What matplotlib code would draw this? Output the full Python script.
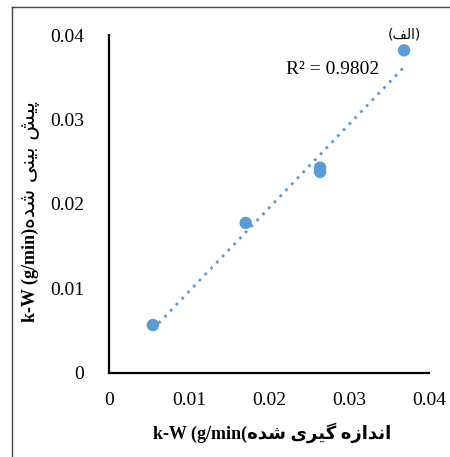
import numpy as np
import matplotlib
matplotlib.use("Agg")
import matplotlib.pyplot as plt
from matplotlib.lines import Line2D

plt.rcParams["font.family"] = ["Liberation Serif", "DejaVu Sans"]

# measured vs predicted k-W (g/min)
measured = [0.0055, 0.0171, 0.0264, 0.0264, 0.0369]
predicted = [0.00565, 0.01775, 0.0243, 0.0238, 0.0382]
ticks = [0, 0.01, 0.02, 0.03, 0.04]
tick_labels = ["0", "0.01", "0.02", "0.03", "0.04"]
r2_label = "R\u00b2 = 0.9802"

# Persian text in visual order (presentation forms)
fa_shode = "\uFEE9\uFEAA\uFEB7"
fa_giri = "\uFBFC\uFEAE\uFBFF\uFB94"
fa_andaze = "\uFEE9\uFEAF\uFE8D\uFEAA\uFEE7\uFE8D"
fa_pish = "\uFEB6\uFBFF\uFB58"
fa_bini = "\uFBFD\uFEE8\uFBFF\uFE91"
fa_alef = "(\uFED2\uFEDF\uFE8D)"

xlabel = "k-W (g/min(" + fa_shode + " " + fa_giri + " " + fa_andaze
ylabel_en = "k-W (g/min)"
ylabel_fa = fa_shode + " " + fa_bini + " " + fa_pish

blue = "#5B9BD5"

fig = plt.figure(figsize=(4.5, 4.57), dpi=100)
ax = fig.add_axes([0.242, 0.1845, 0.711, 0.7385])

# trendline
k, b = np.polyfit(measured, predicted, 1)
xs = np.array([min(measured), max(measured)])
ax.plot(xs, k * xs + b, linestyle=(0, (1, 2)), color=blue, linewidth=2)
ax.scatter(measured, predicted, s=80, color=blue, zorder=3, edgecolors="none")

ax.set_xlim(0, 0.04)
ax.set_ylim(0, 0.04)
ax.set_xticks(ticks)
ax.set_xticklabels(tick_labels)
ax.set_yticks(ticks)
ax.set_yticklabels(tick_labels)
ax.tick_params(length=0, labelsize=14, pad=14)
ax.tick_params(axis="y", pad=18)
for s in ["top", "right"]:
    ax.spines[s].set_visible(False)
for s in ["left", "bottom"]:
    ax.spines[s].set_linewidth(1.6)

ax.text(0.0280, 0.0359, r2_label, fontsize=14, ha="center", va="center")
ax.text(0.0369, 0.0401, fa_alef, fontsize=10, ha="center", va="center",
        family=["DejaVu Sans"])

fig.text(0.605, 0.053, xlabel, fontsize=13, fontweight="bold", ha="center", va="center")

# y label: bold latin part, regular persian part above it
t_en = fig.text(0.067, 1 - 322 / 457, ylabel_en, fontsize=13, fontweight="bold",
                ha="center", va="bottom", rotation=90)
ax.annotate(ylabel_fa, xy=(0.5, 1), xycoords=t_en, fontsize=15,
            ha="center", va="bottom", rotation=90, family=["DejaVu Sans"])

# outer frame
fig.add_artist(Line2D([0.027, 0.027], [0, 0.985], transform=fig.transFigure,
                      color="#444444", linewidth=1))
fig.add_artist(Line2D([0.027, 1], [0.985, 0.985], transform=fig.transFigure,
                      color="#444444", linewidth=1))

fig.savefig("out.png", dpi=100)
